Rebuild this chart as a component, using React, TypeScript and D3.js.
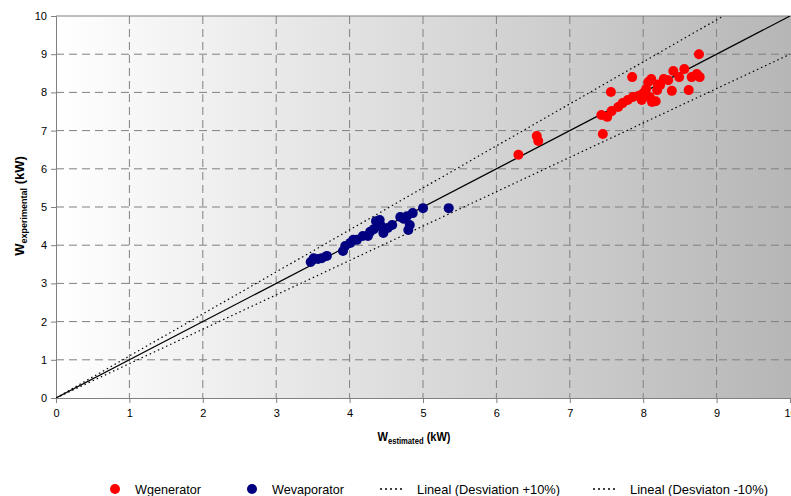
import React, { useEffect, useRef } from "react";
import * as d3 from "d3";

// Wgenerator points [estimated, experimental]
const generator: [number, number][] = [
  [6.3, 6.37], [6.55, 6.86], [6.57, 6.73], [7.45, 6.91], [7.43, 7.41],
  [7.51, 7.36], [7.57, 7.51], [7.56, 8.01], [7.66, 7.62], [7.79, 7.8],
  [7.85, 8.4], [7.86, 7.88], [7.94, 7.91], [7.98, 7.8], [8.04, 8.09],
  [8.07, 8.27], [8.11, 8.35], [8.12, 7.75], [8.17, 7.77], [8.19, 8.06],
  [8.23, 8.19], [8.28, 8.35], [8.34, 8.32], [8.39, 8.04], [8.41, 8.56],
  [8.49, 8.4], [8.56, 8.61], [8.62, 8.06], [8.66, 8.4], [8.73, 8.48],
  [8.77, 8.4], [8.76, 9.0], [8.02, 7.93], [8.09, 7.88], [8.2, 8.21],
  [7.72, 7.72], [8.0, 7.98],
];

// Wevaporator points [estimated, experimental]
const evaporator: [number, number][] = [
  [3.47, 3.56], [3.51, 3.66], [3.57, 3.64], [3.62, 3.66], [3.69, 3.72],
  [3.91, 3.85], [3.94, 3.98], [4.01, 4.06], [4.05, 4.14], [4.1, 4.14],
  [4.18, 4.24], [4.25, 4.24], [4.28, 4.35], [4.33, 4.42], [4.36, 4.63],
  [4.41, 4.66], [4.43, 4.5], [4.46, 4.32], [4.52, 4.45], [4.58, 4.53],
  [4.69, 4.74], [4.74, 4.69], [4.78, 4.76], [4.86, 4.84], [4.82, 4.53],
  [4.8, 4.4], [5.0, 4.97], [5.35, 4.97],
];

const ticks = [0, 1, 2, 3, 4, 5, 6, 7, 8, 9, 10];
const legendItems = [
  { label: "Wgenerator", kind: "dot", color: "#ff0000", w: 66 },
  { label: "Wevaporator", kind: "dot", color: "#000080", w: 72 },
  { label: "Lineal (Desviation +10%)", kind: "line", color: "#000", w: 143 },
  { label: "Lineal (Desviaton -10%)", kind: "line", color: "#000", w: 138 },
];

export default function App() {
  const ref = useRef<SVGSVGElement>(null);

  useEffect(() => {
    const width = 791;
    const left = 56,
      right = 790,
      top = 16,
      bottom = 398;
    const font = "Liberation Sans, Arial, sans-serif";

    const svg = d3.select(ref.current);
    svg.selectAll("*").remove();

    const x = d3.scaleLinear().domain([0, 10]).range([left, right]);
    const y = d3.scaleLinear().domain([0, 10]).range([bottom, top]);

    const defs = svg.append("defs");
    const grad = defs
      .append("linearGradient")
      .attr("id", "bg")
      .attr("x1", "0")
      .attr("x2", "1")
      .attr("y1", "0")
      .attr("y2", "0");
    grad.append("stop").attr("offset", "0").attr("stop-color", "#ffffff");
    grad.append("stop").attr("offset", "1").attr("stop-color", "#b6b6b6");

    svg
      .append("rect")
      .attr("x", left)
      .attr("y", top)
      .attr("width", width - left)
      .attr("height", bottom - top)
      .attr("fill", "url(#bg)");

    // grid
    const grid = svg.append("g").attr("stroke", "#808080").attr("stroke-dasharray", "8,5");
    ticks.slice(1, 10).forEach((t) => {
      grid.append("line").attr("x1", x(t)).attr("x2", x(t)).attr("y1", top).attr("y2", bottom);
      grid.append("line").attr("x1", left).attr("x2", width).attr("y1", y(t)).attr("y2", y(t));
    });
    svg
      .append("line")
      .attr("x1", left)
      .attr("x2", width)
      .attr("y1", top)
      .attr("y2", top)
      .attr("stroke", "#808080");

    // axes
    const yAxis = svg
      .append("g")
      .attr("transform", `translate(${left},0)`)
      .call(d3.axisLeft(y).tickValues(ticks).tickSize(5).tickPadding(4).tickFormat(d3.format("d")));
    const xAxis = svg
      .append("g")
      .attr("transform", `translate(0,${bottom})`)
      .call(d3.axisBottom(x).tickValues(ticks).tickSize(5).tickPadding(6).tickFormat(d3.format("d")));
    [xAxis, yAxis].forEach((a) => {
      a.select(".domain").attr("stroke", "#808080");
      a.selectAll(".tick line").attr("stroke", "#808080");
      a.selectAll("text").attr("font-family", font).attr("font-size", 11).attr("fill", "#000");
    });

    // reference lines
    defs
      .append("clipPath")
      .attr("id", "plotclip")
      .append("rect")
      .attr("x", left)
      .attr("y", top)
      .attr("width", width - left)
      .attr("height", bottom - top);
    const lines = svg.append("g").attr("clip-path", "url(#plotclip)");
    const line = d3
      .line<number[]>()
      .x((d) => x(d[0]))
      .y((d) => y(d[1]));
    [[10, 11], [10, 9]].forEach((end) => {
      lines
        .append("path")
        .attr("d", line([[0, 0], end]))
        .attr("fill", "none")
        .attr("stroke", "#000")
        .attr("stroke-width", 1.2)
        .attr("stroke-dasharray", "1.5,3");
    });
    lines
      .append("path")
      .attr("d", line([[0, 0], [10, 10]]))
      .attr("fill", "none")
      .attr("stroke", "#000")
      .attr("stroke-width", 1.2);

    // points
    svg
      .append("g")
      .selectAll("circle")
      .data(evaporator)
      .join("circle")
      .attr("cx", (d) => x(d[0]))
      .attr("cy", (d) => y(d[1]))
      .attr("r", 5)
      .attr("fill", "#000080");
    svg
      .append("g")
      .selectAll("circle")
      .data(generator)
      .join("circle")
      .attr("cx", (d) => x(d[0]))
      .attr("cy", (d) => y(d[1]))
      .attr("r", 5)
      .attr("fill", "#ff0000");

    // axis titles
    const xt = svg
      .append("g")
      .attr("transform", "translate(414,441) scale(0.85,1)")
      .append("text")
      .attr("text-anchor", "middle")
      .attr("font-family", font)
      .attr("font-weight", "bold")
      .attr("font-size", 13);
    xt.append("tspan").text("W");
    xt.append("tspan").attr("font-size", 9).attr("dy", 3).text("estimated");
    xt.append("tspan").attr("dy", -3).text(" (kW)");

    const yt = svg
      .append("text")
      .attr("transform", `translate(24,206) rotate(-90)`)
      .attr("text-anchor", "middle")
      .attr("font-family", font)
      .attr("font-weight", "bold")
      .attr("font-size", 13);
    yt.append("tspan").text("W");
    yt.append("tspan").attr("font-size", 9).attr("dy", 3).text("experimental");
    yt.append("tspan").attr("dy", -3).text(" (kW)");

    // legend
    const legendX = [115, 252, 380, 593];
    const legend = svg.append("g");
    legendItems.forEach((item, i) => {
      const g = legend.append("g").attr("transform", `translate(${legendX[i]},489)`);
      if (item.kind === "dot") {
        g.append("circle").attr("cx", 0).attr("cy", 0).attr("r", 5).attr("fill", item.color);
      } else {
        g.append("line")
          .attr("x1", 0)
          .attr("x2", 24)
          .attr("y1", 0)
          .attr("y2", 0)
          .attr("stroke", item.color)
          .attr("stroke-width", 1.5)
          .attr("stroke-dasharray", "2,3");
      }
      g.append("text")
        .attr("x", item.kind === "dot" ? 20 : 37)
        .attr("y", 5)
        .attr("font-family", font)
        .attr("font-size", 13)
        .attr("textLength", item.w)
        .attr("lengthAdjust", "spacingAndGlyphs")
        .text(item.label);
    });
  }, []);

  return (
    <svg
      ref={ref}
      width={791}
      height={496}
      style={{ position: "absolute", left: 0, top: 0, background: "#fff" }}
    />
  );
}
